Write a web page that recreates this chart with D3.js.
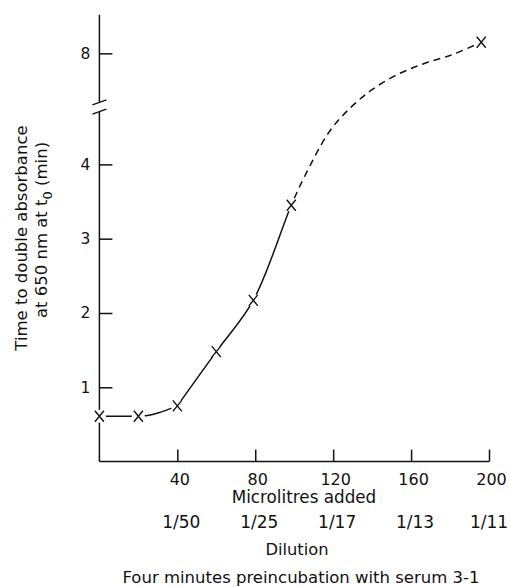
<!DOCTYPE html>
<html>
<head>
<meta charset="utf-8">
<script src="https://cdn.jsdelivr.net/npm/d3@7"></script>
<style>
body { margin: 0; background: #fff; }
svg { display: block; }
text { font-family: "DejaVu Sans", sans-serif; fill: #111; }
</style>
</head>
<body>
<svg id="svg" width="510" height="587"></svg>
<script>
// measured points (x marks)
const microlitres = [0, 20, 40, 60, 79, 98.5, 196]
const doublingTime = [0.61, 0.61, 0.75, 1.48, 2.17, 3.45, 8.15]
// points read along the dashed part of the drawn curve
const dashedX = [105.2, 117.5, 127.5, 139.4, 152.6, 166.5, 180.9]
const dashedY = [3.83, 4.42, 5.81, 7.5, 7.71, 7.86, 7.98]
const xTicks = [40, 80, 120, 160, 200]
const dilutions = ['1/50', '1/25', '1/17', '1/13', '1/11']
const yTicks = [1, 2, 3, 4, 8]
const breakLow = 5.7
const breakHigh = 6.9
const yTop = 8.52

const $svg = d3.select('#svg')

const x = d3.scaleLinear().domain([0, 200]).range([99.4, 489])
// broken axis: compressed stretch between 4.6 and 7.4
const y = d3.scaleLinear()
	.domain([0, 4.6, 7.4, 8.6])
	.range([461.6, 119.8, 97.9, 8.8])

const ink = '#111'

const axisLine = (x1, y1, x2, y2, w = 1.5) => $svg.append('line')
	.attr('x1', x1).attr('y1', y1).attr('x2', x2).attr('y2', y2)
	.attr('stroke', ink).attr('stroke-width', w)

// y axis in two pieces around the break
axisLine(x(0), y(0), x(0), y(breakLow))
axisLine(x(0), y(breakHigh), x(0), y(yTop))
axisLine(x(0) - 7, y(breakLow) + 3, x(0) + 7, y(breakLow) - 2, 1.4)
axisLine(x(0) - 7, y(breakHigh) + 3, x(0) + 7, y(breakHigh) - 2, 1.4)
axisLine(x(0), y(0), x(200), y(0))

const yAxis = $svg.append('g')
	.attr('transform', `translate(${x(0)},0)`)
	.call(d3.axisLeft(y).tickValues(yTicks).tickSize(-13).tickPadding(9).tickFormat(d3.format('d')))
yAxis.select('.domain').remove()
yAxis.selectAll('line').attr('stroke', ink).attr('stroke-width', 1.5)
yAxis.selectAll('text').attr('font-size', 15.5).attr('font-family', null).attr('fill', ink)

const xAxis = $svg.append('g')
	.attr('transform', `translate(0,${y(0)})`)
	.call(d3.axisBottom(x).tickValues(xTicks).tickSize(-12).tickPadding(12))
xAxis.select('.domain').remove()
xAxis.selectAll('line').attr('stroke', ink).attr('stroke-width', 1.5)
xAxis.selectAll('text').attr('font-size', 16).attr('font-family', null).attr('fill', ink).attr('dx', 2)

const points = microlitres.map((m, i) => ({ m, t: doublingTime[i] }))

// low flat start: first three marks
const startLine = d3.line()
	.x(d => x(d.m))
	.y(d => y(d.t))
	.curve(d3.curveMonotoneX)
$svg.append('path')
	.attr('d', startLine(points.slice(0, 3)))
	.attr('fill', 'none').attr('stroke', ink).attr('stroke-width', 1.5)

// rising part: solid up to the 6th mark, dashed after
const risePts = points.slice(2, 6)
	.concat(dashedX.map((m, i) => ({ m, t: dashedY[i] })))
	.concat(points.slice(6))

const riseLine = d3.line()
	.x(d => x(d.m))
	.y(d => y(d.t))
	.curve(d3.curveCatmullRom.alpha(0.5))

const splitX = x(microlitres[5])
const defs = $svg.append('defs')
defs.append('clipPath').attr('id', 'solidPart')
	.append('rect').attr('x', 0).attr('y', 0).attr('width', splitX).attr('height', 587)
defs.append('clipPath').attr('id', 'dashedPart')
	.append('rect').attr('x', splitX).attr('y', 0).attr('width', 510 - splitX).attr('height', 587)

$svg.append('path')
	.attr('d', riseLine(risePts))
	.attr('clip-path', 'url(#solidPart)')
	.attr('fill', 'none').attr('stroke', ink).attr('stroke-width', 1.5)
$svg.append('path')
	.attr('d', riseLine(risePts))
	.attr('clip-path', 'url(#dashedPart)')
	.attr('fill', 'none').attr('stroke', ink).attr('stroke-width', 1.5)
	.attr('stroke-dasharray', '7,5')

// gaps around the marks, then the x marks
const marks = $svg.append('g').selectAll('g').data(points).join('g')
	.attr('transform', d => `translate(${x(d.m)},${y(d.t)})`)
marks.append('circle').attr('r', 6.5).attr('fill', '#fff')
marks.append('path')
	.attr('d', 'M-4.5,-5.5L4.5,5.5M-4.5,5.5L4.5,-5.5')
	.attr('stroke', ink).attr('stroke-width', 1.4).attr('fill', 'none')

// dilution row
$svg.append('g').selectAll('text').data(dilutions).join('text')
	.attr('x', (d, i) => x(xTicks[i]) + (i === 4 ? 0 : 4))
	.attr('y', 528)
	.attr('text-anchor', 'middle')
	.attr('font-size', 17)
	.text(d => d)

const label = (tx, ty, str, size) => $svg.append('text')
	.attr('x', tx).attr('y', ty)
	.attr('text-anchor', 'middle')
	.attr('font-size', size)
	.text(str)

label(304, 503, 'Microlitres added', 16.8)
label(297, 555, 'Dilution', 16.3)
label(301, 583, 'Four minutes preincubation with serum 3-1', 16.5)

// y title, two rotated lines
const yTitle = $svg.append('g').attr('transform', 'rotate(-90)')
yTitle.append('text')
	.attr('x', -238).attr('y', 27)
	.attr('text-anchor', 'middle').attr('font-size', 16.5)
	.text('Time to double absorbance')
const line2 = yTitle.append('text')
	.attr('x', -230).attr('y', 47)
	.attr('text-anchor', 'middle').attr('font-size', 16.5)
line2.append('tspan').text('at 650 nm at t')
line2.append('tspan').attr('dy', 5).attr('font-size', 13).text('0')
line2.append('tspan').attr('dy', -5).text(' (min)')
</script>
</body>
</html>
